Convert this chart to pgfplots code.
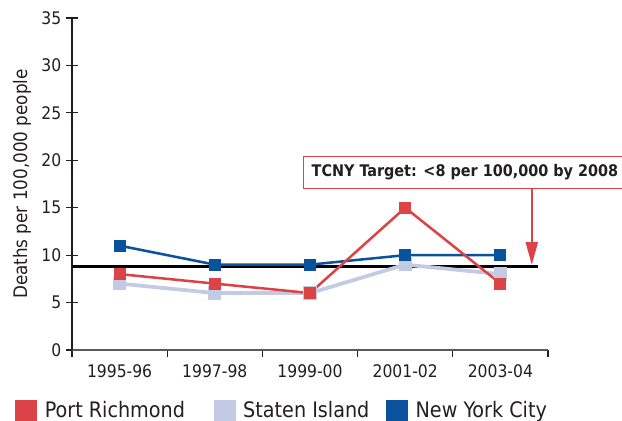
\documentclass[border=0pt]{standalone}
\usepackage{pgfplots}
\pgfplotsset{compat=1.18}
\usepackage{fontspec}
\setmainfont{DejaVu Sans Condensed}
\usetikzlibrary{arrows.meta}
\definecolor{prred}{HTML}{DB4346}
\definecolor{silight}{HTML}{C3CAE4}
\definecolor{nycblue}{HTML}{0B529E}
\definecolor{axisdark}{HTML}{231F20}
\begin{document}
\begin{tikzpicture}
\path[use as bounding box] (0,0) rectangle (466.5pt,315.75pt);
\begin{axis}[
  at={(54pt,53.25pt)}, anchor=south west,
  scale only axis, width=357pt, height=249pt,
  xmin=-0.5, xmax=4.5, ymin=0, ymax=35,
  axis x line*=bottom, axis y line*=left,
  x axis line style={draw=black!65, line width=0.8pt},
  y axis line style={draw=axisdark, line width=1.1pt},
  xtick={0,1,2,3,4},
  xticklabels={1995-96,1997-98,1999-00,2001-02,2003-04},
  major x tick style={draw=none},
  minor xtick={-0.5,0.5,1.5,2.5,3.5,4.5},
  minor tick length=5pt,
  minor x tick style={draw=axisdark, line width=0.8pt},
  ytick={0,5,...,35},
  tick align=outside,
  major tick length=8.5pt,
  y tick style={draw=axisdark, line width=0.8pt, xshift=4.25pt},
  ticklabel style={font=\fontsize{13}{15}\selectfont, text=axisdark},
  /pgf/number format/assume math mode=true,
  yticklabel style={xshift=4pt},
  xticklabel style={yshift=1pt},
  ylabel={Deaths per 100,000 people},
  ylabel style={at={(axis description cs:-0.105,0.5)}, anchor=center, font=\fontsize{14}{16}\selectfont, text=axisdark},
  clip=false,
  legend style={at={(axis description cs:-0.1197,-0.1807)}, anchor=west, draw=none, fill=none, inner sep=0pt,
    font=\fontsize{16}{19}\selectfont, text=axisdark,
    /tikz/every even column/.append style={column sep=15.5pt},
    nodes={inner xsep=6pt}},
  legend columns=3,
  legend cell align=left,
]
\addplot[black, line width=2.2pt, forget plot] coordinates {(-0.5,8.8) (4.4,8.8)};
\addplot[silight, line width=2.8pt, mark=square*, mark size=3.6pt, forget plot] coordinates {(0,7) (1,6) (2,6) (3,9) (4,8)};
\addplot[nycblue, line width=1.9pt, mark=square*, mark size=3.6pt, forget plot] coordinates {(0,11) (1,9) (2,9) (3,10) (4,10)};
\addplot[prred, line width=1.9pt, mark=square*, mark size=3.6pt, forget plot] coordinates {(0,8) (1,7) (2,6) (3,15) (4,7)};
\addlegendimage{legend image code/.code={\fill[prred] (0pt,-7.5pt) rectangle (15.75pt,7.5pt);}}
\addlegendentry{Port Richmond}
\addlegendimage{legend image code/.code={\fill[silight] (0pt,-7.5pt) rectangle (15.75pt,7.5pt);}}
\addlegendentry{Staten Island\hspace*{-9pt}}
\addlegendimage{legend image code/.code={\fill[nycblue] (0pt,-7.5pt) rectangle (15.75pt,7.5pt);}}
\addlegendentry{New York City}
\draw[prred, line width=1.5pt, -{Triangle[length=17pt,width=9pt]}] (axis cs:4.33,16.97) -- (axis cs:4.33,8.97);
\node[draw=prred, line width=1.1pt, fill=white, anchor=south west, minimum height=24pt, inner xsep=6pt,
  font=\bfseries\fontsize{12}{14}\selectfont, text=axisdark] at (axis cs:1.926,16.97) {TCNY Target: <8 per 100,000 by 2008\hspace*{16pt}};
\end{axis}
\end{tikzpicture}
\end{document}
